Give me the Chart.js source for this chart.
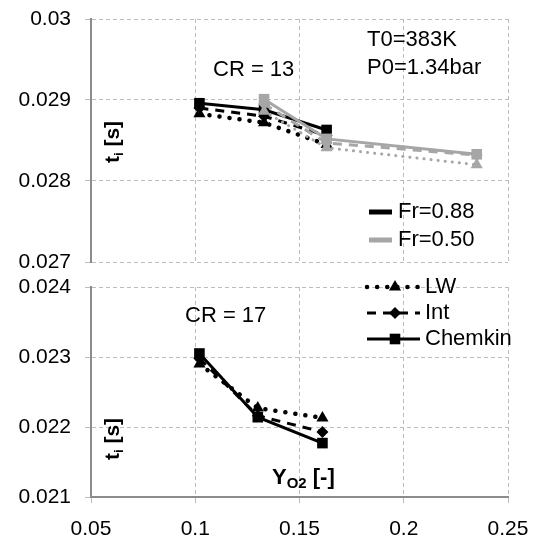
<!DOCTYPE html>
<html>
<head>
<meta charset="utf-8">
<script src="https://cdn.jsdelivr.net/npm/chart.js"></script>
<style>
  html, body { margin: 0; padding: 0; background: #fff; }
  #wrap { position: relative; width: 533px; height: 543px; }
  .layer { position: absolute; left: 0; top: 0; width: 533px; height: 543px; }
</style>
</head>
<body>
<div id="wrap">
  <div class="layer"><canvas id="cr17"></canvas></div>
  <div class="layer"><canvas id="cr13"></canvas></div>
</div>
<script>
// Ignition delay t_i vs oxygen mass fraction, CR = 13 (top) and CR = 17 (bottom)
const xTicks = [0.05, 0.1, 0.15, 0.2, 0.25];
const yTicksCR13 = [0.027, 0.028, 0.029, 0.03];
const yTicksCR17 = [0.021, 0.022, 0.023, 0.024];

// CR = 13, Fr = 0.88
const yo2Fr088 = [0.102, 0.133, 0.163];
const lwFr088 = [0.02883, 0.02872, 0.02845];
const intFr088 = [0.02890, 0.02880, 0.02856];
const chemFr088 = [0.02896, 0.02888, 0.02863];

// CR = 13, Fr = 0.50
const yo2Fr050 = [0.133, 0.163, 0.235];
const lwFr050 = [0.02886, 0.02841, 0.02820];
const intFr050 = [0.02895, 0.02847, 0.02832];
const chemFr050 = [0.02901, 0.02852, 0.02833];

// CR = 17, Fr = 0.88
const yo2CR17 = [0.102, 0.13, 0.161];
const lwCR17 = [0.02290, 0.02227, 0.02213];
const intCR17 = [0.02298, 0.02216, 0.02193];
const chemCR17 = [0.02305, 0.02214, 0.02177];

const BLACK = '#000000';
const GREY = '#a6a6a6';
const FONT = '"Liberation Sans", Arial, Helvetica, sans-serif';
const GRID = '#bdbdbd';
const AXIS = '#8c8c8c';

// model line styles: LW dotted / triangle, Int dashed / diamond, Chemkin solid / square
const MODELS = {
  LW: { borderDash: [0.1, 10], borderCapStyle: 'round', borderWidth: 4.5, pointStyle: 'triangle', pointRadius: 7 },
  Int: { borderDash: [9, 7], borderCapStyle: 'butt', borderWidth: 3, pointStyle: 'rectRot', pointRadius: 6 },
  Chemkin: { borderDash: [], borderCapStyle: 'butt', borderWidth: 3, pointStyle: 'rect', pointRadius: 7.5 }
};

function series(model, xs, ys, color, thin) {
  const m = MODELS[model];
  return {
    label: model,
    data: xs.map((x, i) => ({ x: x, y: ys[i] })),
    borderColor: color,
    backgroundColor: color,
    pointBackgroundColor: color,
    pointBorderColor: color,
    pointBorderWidth: 0,
    borderDash: thin && model === 'LW' ? [0.1, 7] : m.borderDash,
    borderCapStyle: m.borderCapStyle,
    borderWidth: thin && model === 'LW' ? 3 : m.borderWidth,
    pointStyle: m.pointStyle,
    pointRadius: m.pointRadius,
    tension: 0,
    fill: false
  };
}

function text(ctx, str, x, y, size, bold, align) {
  ctx.font = (bold ? 'bold ' : '') + size + 'px ' + FONT;
  ctx.textAlign = align || 'left';
  ctx.textBaseline = 'middle';
  ctx.fillStyle = BLACK;
  ctx.fillText(str, x, y);
  return ctx.measureText(str).width;
}

// rotated "t_i [s]" axis title
function tiTitle(ctx, x, y) {
  ctx.save();
  ctx.translate(x, y);
  ctx.rotate(-Math.PI / 2);
  ctx.fillStyle = BLACK;
  ctx.textBaseline = 'alphabetic';
  ctx.textAlign = 'left';
  ctx.font = 'bold 21px ' + FONT;
  ctx.fillText('t', 0, 0);
  let w = ctx.measureText('t').width;
  ctx.font = 'bold 13px ' + FONT;
  ctx.fillText('i', w, 4);
  w += ctx.measureText('i').width;
  ctx.font = 'bold 21px ' + FONT;
  ctx.fillText(' [s]', w, 0);
  ctx.restore();
}

function marker(ctx, style, x, y, r, color) {
  ctx.save();
  ctx.fillStyle = color;
  ctx.beginPath();
  if (style === 'triangle') {
    ctx.moveTo(x, y - r);
    ctx.lineTo(x + r * Math.sin(Math.PI / 3), y + r / 2);
    ctx.lineTo(x - r * Math.sin(Math.PI / 3), y + r / 2);
  } else if (style === 'rectRot') {
    ctx.moveTo(x - r, y);
    ctx.lineTo(x, y - r);
    ctx.lineTo(x + r, y);
    ctx.lineTo(x, y + r);
  } else {
    const s = r * Math.SQRT1_2;
    ctx.rect(x - s, y - s, 2 * s, 2 * s);
  }
  ctx.closePath();
  ctx.fill();
  ctx.restore();
}

function sampleLine(ctx, x1, x2, y, color, width, dash, cap) {
  ctx.save();
  ctx.strokeStyle = color;
  ctx.lineWidth = width;
  ctx.setLineDash(dash);
  ctx.lineCap = cap;
  ctx.beginPath();
  ctx.moveTo(x1, y);
  ctx.lineTo(x2, y);
  ctx.stroke();
  ctx.restore();
}

const cr13Notes = {
  id: 'cr13Notes',
  afterDraw(chart) {
    const ctx = chart.ctx;
    text(ctx, 'CR = 13', 213, 70, 22);
    text(ctx, 'T0=383K', 367, 40, 22);
    text(ctx, 'P0=1.34bar', 367, 68, 22);
    tiTitle(ctx, 119, 163);
    sampleLine(ctx, 369, 392, 212, BLACK, 5, [], 'butt');
    text(ctx, 'Fr=0.88', 398, 212, 22);
    sampleLine(ctx, 369, 392, 240, GREY, 5, [], 'butt');
    text(ctx, 'Fr=0.50', 398, 240, 22);
  }
};

const cr17Notes = {
  id: 'cr17Notes',
  afterDraw(chart) {
    const ctx = chart.ctx;
    text(ctx, 'CR = 17', 185, 316, 22);
    tiTitle(ctx, 119, 460);
    // Y_O2 [-]
    let x = 272;
    x += text(ctx, 'Y', x, 478, 22, true);
    x += text(ctx, 'O2', x, 484, 15, true);
    text(ctx, ' [-]', x, 478, 22, true);
    const rows = [['LW', 287], ['Int', 313], ['Chemkin', 339]];
    rows.forEach(([name, y]) => {
      const m = MODELS[name];
      sampleLine(ctx, 367, 420, y, BLACK, m.borderWidth, m.borderDash, m.borderCapStyle);
      marker(ctx, m.pointStyle, 395, y, m.pointRadius, BLACK);
      text(ctx, name, 425, y, 22);
    });
  }
};

function yScale(ticks, fixedWidth) {
  return {
    type: 'linear',
    min: ticks[0],
    max: ticks[ticks.length - 1],
    afterBuildTicks: s => { s.ticks = ticks.map(v => ({ value: v })); },
    afterFit: s => { s.width = fixedWidth; s.paddingTop = 0; s.paddingBottom = 0; },
    ticks: {
      color: BLACK,
      padding: 14,
      font: { family: FONT, size: 21 },
      callback: v => String(v)
    },
    grid: { color: GRID, lineWidth: 1, tickLength: 6, drawTicks: true },
    border: { display: true, color: AXIS, width: 2, dash: [4, 3] }
  };
}

const common = {
  responsive: true,
  maintainAspectRatio: false,
  animation: false,
  events: [],
  plugins: { legend: { display: false }, tooltip: { enabled: false } }
};

new Chart(document.getElementById('cr13'), {
  type: 'line',
  data: {
    datasets: [
      series('Chemkin', yo2Fr050, chemFr050, GREY),
      series('Int', yo2Fr050, intFr050, GREY),
      series('LW', yo2Fr050, lwFr050, GREY, true),
      series('Chemkin', yo2Fr088, chemFr088, BLACK),
      series('Int', yo2Fr088, intFr088, BLACK),
      series('LW', yo2Fr088, lwFr088, BLACK)
    ]
  },
  options: Object.assign({}, common, {
    layout: { padding: { left: 0, top: 19, right: 25, bottom: 281 } },
    scales: {
      x: {
        type: 'linear',
        min: xTicks[0],
        max: xTicks[xTicks.length - 1],
        afterBuildTicks: s => { s.ticks = xTicks.map(v => ({ value: v })); },
        afterFit: s => { s.height = 0; s.paddingLeft = 0; s.paddingRight = 0; },
        ticks: { display: false },
        grid: { color: GRID, lineWidth: 1, drawTicks: false },
        border: { display: false, dash: [4, 3] }
      },
      y: yScale(yTicksCR13, 91)
    }
  }),
  plugins: [cr13Notes]
});

new Chart(document.getElementById('cr17'), {
  type: 'line',
  data: {
    datasets: [
      series('Chemkin', yo2CR17, chemCR17, BLACK),
      series('Int', yo2CR17, intCR17, BLACK),
      series('LW', yo2CR17, lwCR17, BLACK)
    ]
  },
  options: Object.assign({}, common, {
    layout: { padding: { left: 0, top: 287, right: 25, bottom: 0 } },
    scales: {
      x: {
        type: 'linear',
        min: xTicks[0],
        max: xTicks[xTicks.length - 1],
        afterBuildTicks: s => { s.ticks = xTicks.map(v => ({ value: v })); },
        afterFit: s => { s.height = 46; s.paddingLeft = 0; s.paddingRight = 0; },
        ticks: {
          color: BLACK,
          padding: 14,
          maxRotation: 0,
          font: { family: FONT, size: 21 },
          callback: v => String(v)
        },
        grid: { color: GRID, lineWidth: 1, tickLength: 6 },
        border: { display: true, color: AXIS, width: 2, dash: [4, 3] }
      },
      y: yScale(yTicksCR17, 91)
    }
  }),
  plugins: [cr17Notes]
});
</script>
</body>
</html>
